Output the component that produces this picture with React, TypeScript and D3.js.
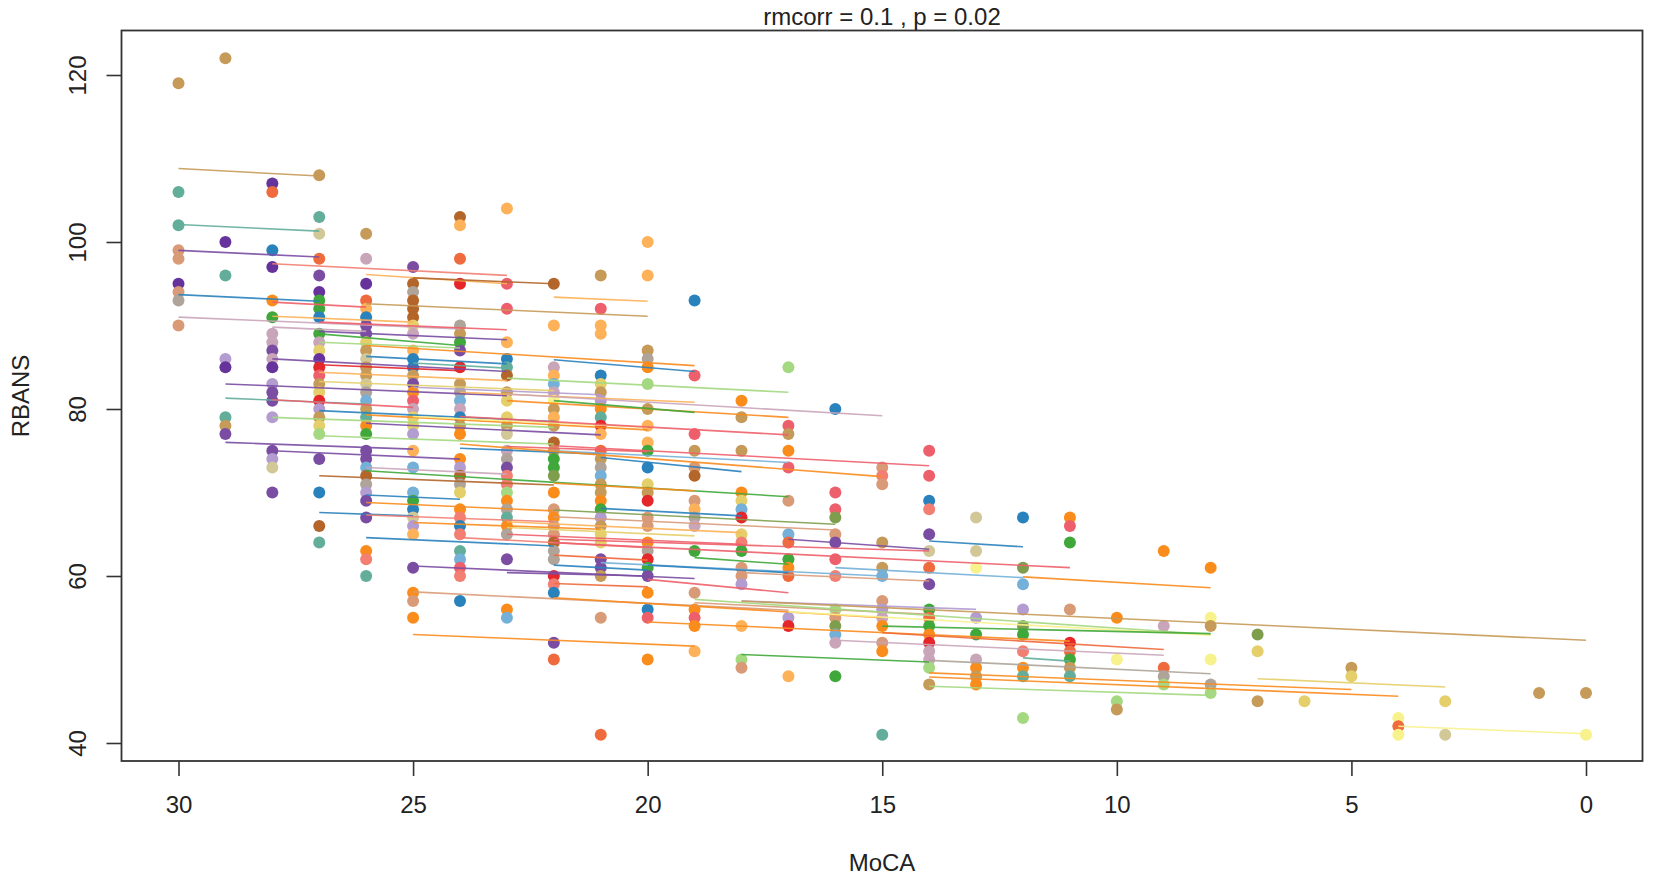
import { useRef, useEffect } from 'react'
import * as d3 from 'd3'

const colours: Record<string, string> = {
    blue: '#2a82bd',
    lb: '#74b0d8',
    teal: '#63ad9b',
    green: '#3fa83a',
    olive: '#7f9e4e',
    lg: '#a4d881',
    red: '#e5262a',
    pink: '#ee5f6c',
    sal: '#f27f72',
    redorg: '#ef6a3c',
    orange: '#fa8c1e',
    lorange: '#fdb158',
    pur: '#7a4ea3',
    pur2: '#66339c',
    lpur: '#b39ccf',
    mauve: '#c9a5b9',
    gray: '#aea49a',
    yellow: '#f8f28c',
    khaki: '#e4cf6a',
    sand: '#d2c797',
    tan: '#c69a58',
    tsal: '#d99a78',
    brown: '#b3652a',
}

type Dot = [number, string]

const pointColumns: [number, Dot[]][] = [
    [30, [[119, 'tan'], [106, 'teal'], [102, 'teal'], [99, 'tsal'], [98, 'tsal'], [95, 'pur2'], [94, 'tsal'], [93, 'gray'], [90, 'tsal']]],
    [29, [[122, 'tan'], [100, 'pur2'], [96, 'teal'], [86, 'lpur'], [85, 'pur2'], [79, 'teal'], [78, 'tan'], [77, 'pur']]],
    [28, [[107, 'pur2'], [106, 'redorg'], [99, 'blue'], [97, 'pur2'], [93, 'orange'], [91, 'green'], [89, 'mauve'], [88, 'mauve'], [87, 'pur'], [86, 'mauve'], [85, 'pur2'], [83, 'lpur'], [82, 'pur'], [81, 'pur'], [79, 'lpur'], [75, 'pur'], [74, 'lpur'], [73, 'sand'], [70, 'pur']]],
    [27, [[108, 'tan'], [103, 'teal'], [101, 'sand'], [98, 'redorg'], [96, 'pur'], [94, 'pur2'], [93, 'green'], [92, 'green'], [91, 'blue'], [89, 'green'], [88, 'mauve'], [87, 'khaki'], [86, 'pur2'], [85, 'red'], [84, 'pink'], [83, 'tan'], [82, 'khaki'], [81, 'red'], [80, 'lpur'], [79, 'tan'], [78, 'khaki'], [77, 'lg'], [74, 'pur'], [70, 'blue'], [66, 'brown'], [64, 'teal']]],
    [26, [[101, 'tan'], [98, 'mauve'], [95, 'pur2'], [93, 'redorg'], [92, 'lorange'], [91, 'blue'], [90, 'pur'], [89, 'pur'], [88, 'khaki'], [87, 'tan'], [86, 'sand'], [85, 'tan'], [84, 'tan'], [83, 'sand'], [82, 'gray'], [81, 'lb'], [80, 'tan'], [79, 'teal'], [78, 'orange'], [77, 'green'], [75, 'pur'], [74, 'pur'], [73, 'lb'], [72, 'brown'], [71, 'gray'], [70, 'lpur'], [69, 'pur'], [67, 'pur'], [63, 'orange'], [62, 'sal'], [60, 'teal']]],
    [25, [[97, 'pur'], [95, 'brown'], [94, 'gray'], [93, 'brown'], [92, 'brown'], [91, 'brown'], [90, 'khaki'], [89, 'mauve'], [87, 'lorange'], [86, 'blue'], [85, 'blue'], [84, 'tan'], [83, 'pur'], [82, 'orange'], [81, 'pink'], [80, 'mauve'], [79, 'khaki'], [78, 'khaki'], [77, 'lpur'], [75, 'lorange'], [73, 'lb'], [70, 'lb'], [69, 'green'], [68, 'blue'], [67, 'sand'], [66, 'lpur'], [65, 'lorange'], [61, 'pur'], [58, 'orange'], [57, 'tsal'], [55, 'orange']]],
    [24, [[103, 'brown'], [102, 'lorange'], [98, 'redorg'], [95, 'red'], [90, 'gray'], [89, 'tan'], [88, 'green'], [87, 'pur'], [85, 'red'], [83, 'tan'], [82, 'gray'], [81, 'lb'], [80, 'mauve'], [79, 'blue'], [78, 'tan'], [77, 'orange'], [74, 'orange'], [73, 'lpur'], [72, 'brown'], [71, 'gray'], [70, 'khaki'], [68, 'orange'], [67, 'sal'], [66, 'blue'], [65, 'sal'], [63, 'teal'], [62, 'lb'], [61, 'pink'], [60, 'sal'], [57, 'blue']]],
    [23, [[104, 'lorange'], [95, 'pink'], [92, 'pink'], [88, 'lorange'], [86, 'blue'], [85, 'teal'], [84, 'brown'], [82, 'tan'], [81, 'khaki'], [79, 'khaki'], [78, 'tan'], [77, 'sand'], [75, 'mauve'], [74, 'gray'], [73, 'pur'], [72, 'sal'], [71, 'sal'], [70, 'lg'], [69, 'orange'], [68, 'gray'], [67, 'teal'], [66, 'orange'], [65, 'gray'], [62, 'pur'], [56, 'orange'], [55, 'lb']]],
    [22, [[95, 'brown'], [90, 'lorange'], [85, 'mauve'], [84, 'lorange'], [83, 'lb'], [82, 'mauve'], [81, 'yellow'], [80, 'tan'], [79, 'lorange'], [78, 'tan'], [76, 'brown'], [75, 'tan'], [74, 'green'], [73, 'green'], [72, 'olive'], [70, 'orange'], [68, 'tsal'], [67, 'orange'], [66, 'tsal'], [65, 'tsal'], [64, 'brown'], [63, 'gray'], [62, 'gray'], [60, 'red'], [59, 'sal'], [58, 'blue'], [52, 'pur'], [50, 'redorg']]],
    [21, [[96, 'tan'], [92, 'pink'], [90, 'lorange'], [89, 'lorange'], [84, 'blue'], [83, 'khaki'], [82, 'tan'], [81, 'lpur'], [80, 'orange'], [79, 'teal'], [78, 'red'], [77, 'lorange'], [75, 'redorg'], [74, 'tan'], [73, 'gray'], [72, 'lb'], [71, 'tan'], [70, 'tan'], [69, 'orange'], [68, 'green'], [67, 'lpur'], [66, 'tan'], [65, 'khaki'], [64, 'khaki'], [62, 'pur'], [61, 'pur'], [60, 'tan'], [55, 'tsal'], [41, 'redorg']]],
    [20, [[100, 'lorange'], [96, 'lorange'], [87, 'tan'], [86, 'gray'], [85, 'orange'], [83, 'lg'], [80, 'tan'], [78, 'lorange'], [76, 'lorange'], [75, 'green'], [73, 'blue'], [71, 'khaki'], [70, 'tan'], [69, 'red'], [67, 'tsal'], [66, 'tsal'], [64, 'orange'], [63, 'gray'], [62, 'red'], [61, 'green'], [60, 'pur'], [58, 'orange'], [56, 'blue'], [55, 'pink'], [50, 'orange']]],
    [19, [[93, 'blue'], [84, 'pink'], [77, 'pink'], [75, 'tan'], [73, 'tsal'], [72, 'brown'], [69, 'tsal'], [68, 'lorange'], [67, 'gray'], [66, 'mauve'], [63, 'green'], [58, 'tsal'], [56, 'orange'], [55, 'pink'], [54, 'orange'], [51, 'lorange']]],
    [18, [[81, 'orange'], [79, 'tan'], [75, 'tan'], [70, 'orange'], [69, 'khaki'], [68, 'lb'], [67, 'red'], [65, 'khaki'], [64, 'sal'], [63, 'green'], [61, 'tsal'], [60, 'tsal'], [59, 'lpur'], [54, 'lorange'], [50, 'lg'], [49, 'tsal']]],
    [17, [[85, 'lg'], [78, 'pink'], [77, 'tan'], [75, 'orange'], [73, 'pink'], [69, 'tsal'], [65, 'lb'], [64, 'redorg'], [62, 'green'], [61, 'orange'], [60, 'redorg'], [55, 'lpur'], [54, 'red'], [48, 'lorange']]],
    [16, [[80, 'blue'], [70, 'pink'], [68, 'pink'], [67, 'olive'], [65, 'tsal'], [64, 'pur'], [62, 'pink'], [60, 'sal'], [56, 'lg'], [55, 'tsal'], [54, 'olive'], [53, 'lb'], [52, 'mauve'], [48, 'green']]],
    [15, [[73, 'tsal'], [72, 'sal'], [71, 'tsal'], [64, 'tan'], [61, 'tan'], [60, 'lb'], [57, 'tsal'], [56, 'lpur'], [55, 'mauve'], [54, 'orange'], [52, 'tsal'], [51, 'orange'], [41, 'teal']]],
    [14, [[75, 'pink'], [72, 'pink'], [69, 'blue'], [68, 'sal'], [65, 'pur'], [63, 'sand'], [61, 'redorg'], [59, 'pur'], [56, 'green'], [55, 'redorg'], [54, 'green'], [53, 'orange'], [52, 'red'], [51, 'mauve'], [50, 'mauve'], [49, 'lg'], [47, 'tan']]],
    [13, [[67, 'sand'], [63, 'sand'], [61, 'yellow'], [55, 'lpur'], [53, 'green'], [50, 'mauve'], [49, 'orange'], [48, 'tan'], [47, 'orange']]],
    [12, [[67, 'blue'], [61, 'olive'], [59, 'lb'], [56, 'lpur'], [54, 'olive'], [53, 'green'], [51, 'sal'], [49, 'orange'], [48, 'teal'], [43, 'lg']]],
    [11, [[67, 'orange'], [66, 'pink'], [64, 'green'], [56, 'tsal'], [52, 'red'], [51, 'redorg'], [50, 'green'], [49, 'tan'], [48, 'teal']]],
    [10, [[55, 'orange'], [50, 'yellow'], [45, 'lg'], [44, 'tan']]],
    [9, [[63, 'orange'], [54, 'mauve'], [49, 'redorg'], [48, 'gray'], [47, 'lg']]],
    [8, [[61, 'orange'], [55, 'yellow'], [54, 'tan'], [50, 'yellow'], [47, 'gray'], [46, 'lg']]],
    [7, [[53, 'olive'], [51, 'khaki'], [45, 'tan']]],
    [6, [[45, 'khaki']]],
    [5, [[49, 'tan'], [48, 'khaki']]],
    [4, [[43, 'yellow'], [42, 'redorg'], [41, 'yellow']]],
    [3, [[45, 'khaki'], [41, 'sand']]],
    [1, [[46, 'tan']]],
    [0, [[46, 'tan'], [41, 'yellow']]],
]

// moca from, rbans from, moca to, rbans to, colour
const fitLines: [number, number, number, number, string][] = [
    [30, 108.8, 27, 107.9, 'tan'],
    [30, 102.1, 27, 101.3, 'teal'],
    [30, 99, 27, 98.2, 'pur'],
    [28, 97.4, 23, 96, 'sal'],
    [26, 96.1, 23, 95, 'lorange'],
    [25, 95.7, 22, 95, 'brown'],
    [30, 93.7, 27, 92.9, 'blue'],
    [28, 92.8, 26, 92.2, 'pink'],
    [26, 92.6, 20, 91.1, 'tan'],
    [30, 91, 24, 89.6, 'mauve'],
    [28, 91.1, 25, 90.4, 'lorange'],
    [27, 90.4, 23, 89.5, 'pink'],
    [28, 89.8, 26, 89.3, 'mauve'],
    [27, 89.3, 23, 88.3, 'pur'],
    [27, 89, 24, 87.6, 'green'],
    [27, 88, 24, 87.3, 'lg'],
    [26, 87.6, 19, 85.2, 'orange'],
    [22, 93.4, 20, 92.9, 'lorange'],
    [22, 85.9, 19, 84.5, 'blue'],
    [27, 85.3, 24, 84.6, 'red'],
    [26, 86.3, 23, 85.4, 'blue'],
    [25, 85.5, 23, 84.9, 'teal'],
    [28, 86, 23, 84.5, 'pur'],
    [27, 84.4, 23, 83.4, 'lorange'],
    [23, 83.7, 17, 82, 'lg'],
    [29, 83, 23, 81.6, 'pur'],
    [29, 81.3, 26, 80.6, 'teal'],
    [28, 81.1, 25, 80.2, 'pink'],
    [27, 83.3, 22, 82.2, 'khaki'],
    [25, 82.6, 21, 81.7, 'lpur'],
    [24, 82, 19, 80.8, 'lorange'],
    [23, 81.8, 15, 79.2, 'mauve'],
    [23, 81, 17, 79, 'orange'],
    [22, 81, 19, 79.6, 'green'],
    [27, 79.8, 22, 78.5, 'blue'],
    [26, 79.3, 20, 77.5, 'orange'],
    [26, 78.3, 21, 76.9, 'pur'],
    [25, 79.1, 20, 77.8, 'yellow'],
    [27, 76.8, 22, 75.8, 'lg'],
    [24, 79.1, 17, 76.9, 'pink'],
    [28, 79, 22, 77.8, 'lg'],
    [29, 76, 25, 75.2, 'pur'],
    [28, 75, 24, 74, 'pur'],
    [23, 75.5, 20, 74.9, 'pink'],
    [24, 75.3, 21, 74.6, 'blue'],
    [22, 75.6, 14, 73.2, 'pink'],
    [22, 75, 17, 73.6, 'lb'],
    [24, 75.8, 15, 71.9, 'orange'],
    [21, 74.2, 18, 72.5, 'blue'],
    [26, 73, 23, 72.2, 'mauve'],
    [27, 72, 22, 70.9, 'brown'],
    [26, 72.6, 17, 69.5, 'green'],
    [22, 71.1, 19, 70.2, 'orange'],
    [26, 69.7, 24, 69.2, 'blue'],
    [26, 68.8, 22, 67.8, 'orange'],
    [27, 67.6, 25, 67.2, 'blue'],
    [26, 67.3, 22, 66.5, 'sal'],
    [25, 66.4, 21, 65.6, 'orange'],
    [21, 68.1, 18, 67.2, 'blue'],
    [22, 67.9, 16, 66.2, 'olive'],
    [23, 66.5, 18, 65.2, 'lorange'],
    [22, 67.1, 16, 65.5, 'tsal'],
    [23, 65.8, 19, 64.8, 'khaki'],
    [26, 64.6, 22, 63.6, 'blue'],
    [24, 64.6, 20, 63.4, 'sal'],
    [23, 65, 18, 63.8, 'pink'],
    [22, 64.4, 14, 63, 'pink'],
    [17, 64.4, 14, 63.2, 'pur'],
    [14, 64.2, 12, 63.5, 'blue'],
    [22, 64, 11, 61, 'pink'],
    [22, 62.5, 20, 61.9, 'redorg'],
    [22, 61.3, 20, 60.7, 'blue'],
    [19, 62.2, 17, 61.4, 'green'],
    [21, 61.6, 15, 60, 'lb'],
    [20, 61.3, 17, 60.4, 'blue'],
    [18, 60.4, 14, 59.4, 'tsal'],
    [16, 61, 12, 59.8, 'lb'],
    [12, 59.9, 8, 58.6, 'orange'],
    [25, 61.2, 19, 59.7, 'pur'],
    [23, 60.4, 20, 60, 'pur'],
    [22, 59.1, 20, 58.7, 'redorg'],
    [25, 58.1, 17, 55.9, 'tsal'],
    [20, 59.6, 17, 58, 'pink'],
    [22, 57.4, 15, 55, 'orange'],
    [19, 56.8, 14, 55.4, 'tsal'],
    [20, 54.5, 11, 52.2, 'orange'],
    [25, 53, 19, 51.6, 'orange'],
    [19, 57.2, 8, 53, 'lg'],
    [18, 57, 13, 56, 'lpur'],
    [18, 57, 0, 52.3, 'tan'],
    [17, 55.7, 8, 52.9, 'yellow'],
    [15, 54, 8, 53.1, 'green'],
    [15, 53.2, 9, 51.2, 'redorg'],
    [16, 52.3, 9, 50.5, 'mauve'],
    [12, 50.2, 11, 49.8, 'teal'],
    [18, 50.6, 14, 49.7, 'green'],
    [14, 49.9, 8, 48.3, 'gray'],
    [14, 48.4, 5, 46.4, 'orange'],
    [14, 47.9, 4, 45.6, 'orange'],
    [14, 46.8, 8, 45.7, 'lg'],
    [7, 47.7, 3, 46.7, 'khaki'],
    [4, 42, 0, 41.1, 'yellow'],
]

const xTicks = [30, 25, 20, 15, 10, 5, 0]
const yTicks = [40, 60, 80, 100, 120]

const width = 1654
const height = 881
const box = { left: 121.5, right: 1642.5, top: 30.5, bottom: 761 }
const fontFamily = '"Liberation Sans", Arial, sans-serif'

export default function App() {
    const ref = useRef<SVGSVGElement | null>(null)

    useEffect(() => {
        if (!ref.current) return

        const svg = d3.select(ref.current)
        svg.selectAll('*').remove()

        // slight softening, the reference is a resampled bitmap
        svg.append('defs')
            .append('filter')
            .attr('id', 'soft')
            .append('feGaussianBlur')
            .attr('stdDeviation', 0.5)

        const x = d3.scaleLinear().domain([30, 0]).range([178.5, 1586])
        const y = d3.scaleLinear().domain([40, 120]).range([743, 75])

        const flat = pointColumns.flatMap(([moca, dots]) =>
            dots.map(([rbans, c]) => ({ moca, rbans, c }))
        )

        const marks = svg.append('g').attr('filter', 'url(#soft)')

        marks
            .selectAll('circle')
            .data(flat)
            .enter()
            .append('circle')
            .attr('cx', (d) => x(d.moca))
            .attr('cy', (d) => y(d.rbans))
            .attr('r', 6)
            .attr('fill', (d) => colours[d.c])

        const lineGen = d3
            .line<[number, number]>()
            .x((d) => x(d[0]))
            .y((d) => y(d[1]))

        marks
            .selectAll('path')
            .data(fitLines)
            .enter()
            .append('path')
            .attr('d', (d) =>
                lineGen([
                    [d[0], d[1]],
                    [d[2], d[3]],
                ])
            )
            .attr('fill', 'none')
            .attr('stroke', (d) => colours[d[4]])
            .attr('stroke-width', 1.6)
            .attr('opacity', 0.9)

        // Box
        svg.append('rect')
            .attr('x', box.left)
            .attr('y', box.top)
            .attr('width', box.right - box.left)
            .attr('height', box.bottom - box.top)
            .attr('fill', 'none')
            .attr('stroke', '#333')
            .attr('stroke-width', 1.8)

        // Axes
        const xAxis = svg
            .append('g')
            .attr('transform', `translate(0,${box.bottom})`)
            .call(d3.axisBottom(x).tickValues(xTicks).tickSize(15).tickPadding(20))
        const yAxis = svg
            .append('g')
            .attr('transform', `translate(${box.left},0)`)
            .call(d3.axisLeft(y).tickValues(yTicks).tickSize(15))

        for (const axis of [xAxis, yAxis]) {
            axis.select('.domain').remove()
            axis.selectAll('line').attr('stroke', '#333').attr('stroke-width', 1.6)
            axis.selectAll('text')
                .attr('font-family', fontFamily)
                .attr('font-size', 24)
                .attr('fill', '#222')
        }

        yAxis
            .selectAll('text')
            .attr('x', null)
            .attr('dy', null)
            .attr('text-anchor', 'middle')
            .attr('transform', 'translate(-36,0) rotate(-90)')

        const addText = (
            label: string,
            tx: number,
            ty: number,
            rotate = 0
        ) =>
            svg
                .append('text')
                .attr('transform', `translate(${tx},${ty}) rotate(${rotate})`)
                .attr('text-anchor', 'middle')
                .attr('font-family', fontFamily)
                .attr('font-size', 24)
                .attr('fill', '#222')
                .text(label)

        addText('rmcorr = 0.1 , p = 0.02', 882, 25)
        addText('MoCA', 882, 871)
        addText('RBANS', 29, 396, -90)
    }, [])

    return (
        <svg
            ref={ref}
            width={width}
            height={height}
            style={{
                position: 'absolute',
                left: 0,
                top: 0,
                display: 'block',
                background: 'white',
            }}
        />
    )
}
